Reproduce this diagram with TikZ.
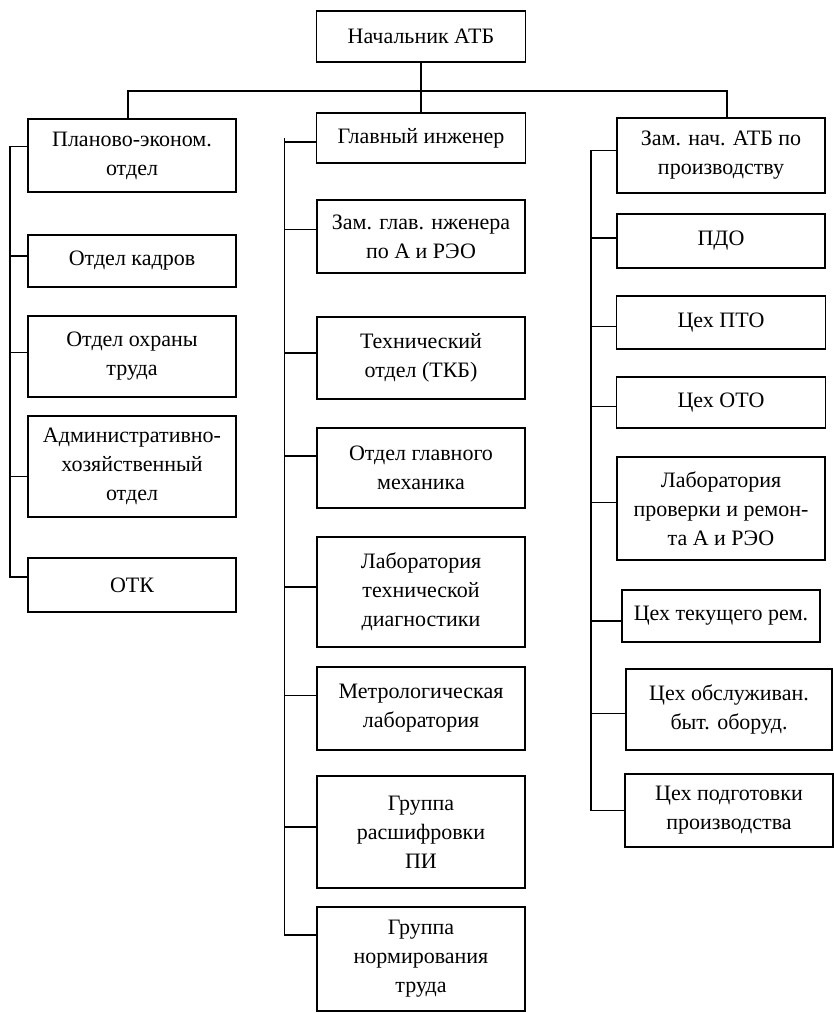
\documentclass[tikz,border=0pt]{standalone}
\usepackage{fontspec}
\setmainfont{Liberation Serif}
\usetikzlibrary{positioning}

\begin{document}
\begin{tikzpicture}[
    x=1pt, y=1pt,
    box/.style={rectangle, draw, line width=1.4pt, outer sep=0pt, minimum width=208pt, inner sep=2pt, align=center, font=\fontsize{22}{29}\selectfont},
    link/.style={line width=1.4pt},
]
\useasboundingbox (0,0) rectangle (834,-1013);

%% NODES
    % head
    \node[box, minimum width=209pt, minimum height=51pt] (head) at (421,-36.5) {Начальник АТБ};

    % left column
    \node[box, minimum height=73pt] (plan_otdel) at (132,-155.5) {Планово-эконом.\\отдел};
    \node[box, minimum height=52pt, below=43pt of plan_otdel] (kadry) {Отдел кадров};
    \node[box, minimum height=81pt, below=29pt of kadry] (ohrana) {Отдел охраны\\труда};
    \node[box, minimum height=101pt, below=19pt of ohrana] (adm_otdel) {Административно-\\хозяйственный\\отдел};
    \node[box, minimum height=54pt, below=41pt of adm_otdel] (otk) {ОТК};

    % middle column
    \node[box, minimum width=209pt, minimum height=50pt] (glav) at (421,-138) {Главный инженер};
    \node[box, minimum height=73pt, below=37pt of glav] (zam_glav) {Зам. глав. нженера\\по А и РЭО};
    \node[box, minimum height=82pt, below=44pt of zam_glav] (tech_otdel) {Технический\\отдел (ТКБ)};
    \node[box, minimum height=80pt, below=29pt of tech_otdel] (meh_otdel) {Отдел главного\\механика};
    \node[box, minimum height=110pt, below=29pt of meh_otdel] (lab_diag) {Лаборатория\\технической\\диагностики};
    \node[box, minimum height=83pt, below=20pt of lab_diag] (metr_lab) {Метрологическая\\лаборатория};
    \node[box, minimum height=112pt, below=26pt of metr_lab] (gr_rassh) {Группа\\расшифровки\\ПИ};
    \node[box, minimum height=104pt, below=19pt of gr_rassh] (gr_norm) {Группа\\нормирования\\труда};

    % right column
    \node[box, minimum height=75pt] (zam_nach) at (721,-155.5) {Зам. нач. АТБ по\\производству};
    \node[box, minimum height=54pt, below=21pt of zam_nach] (pdo) {ПДО};
    \node[box, minimum width=209pt, minimum height=53pt, below=28pt of pdo] (ceh_pto) {Цех ПТО};
    \node[box, minimum width=209pt, minimum height=51pt, below=28pt of ceh_pto] (ceh_oto) {Цех ОТО};
    \node[box, minimum height=103pt, below=29pt of ceh_oto] (lab_rem) {Лаборатория\\проверки и ремон-\\та А и РЭО};
    \node[box, minimum width=198pt, minimum height=52pt, below=30pt of lab_rem] (tek_rem) {Цех текущего рем.};
    \node[box, minimum width=206pt, minimum height=81pt, below=27pt of tek_rem, xshift=8pt] (obsl) {Цех обслуживан.\\быт. оборуд.};
    \node[box, minimum height=73pt, below=24pt of obsl] (podg) {Цех подготовки\\производства};

    % rails
    \coordinate[below=29pt of head.south] (bus);
    \coordinate[left=18pt of plan_otdel.west] (left_rail);
    \coordinate[left=32pt of glav.west] (mid_rail);
    \coordinate[left=26pt of zam_nach.west] (right_rail);

%% CONNECTIONS
    % head -> columns
    \draw[link] (head.south) -- (glav.north);
    \draw[link] ([xshift=-4pt]plan_otdel.north) |- (bus) -| ([xshift=6pt]zam_nach.north);

    % left column
    \draw[link] (left_rail) |- ([yshift=9pt]plan_otdel.west);
    \draw[link] (left_rail) |- ([yshift=5pt]kadry.west);
    \draw[link] (left_rail) |- ([yshift=4pt]ohrana.west);
    \draw[link] (left_rail) |- ([yshift=-10pt]adm_otdel.west);
    \draw[link] (left_rail) |- ([yshift=8pt]otk.west);

    % middle column
    \draw[link] (mid_rail) |- ([yshift=-4pt]glav.west);
    \draw[link] (mid_rail) |- ([yshift=7pt]zam_glav.west);
    \draw[link] (mid_rail) |- ([yshift=5pt]tech_otdel.west);
    \draw[link] (mid_rail) |- ([yshift=12pt]meh_otdel.west);
    \draw[link] (mid_rail) |- ([yshift=5pt]lab_diag.west);
    \draw[link] (mid_rail) |- ([yshift=13pt]metr_lab.west);
    \draw[link] (mid_rail) |- ([yshift=5pt]gr_rassh.west);
    \draw[link] (mid_rail) |- ([yshift=24pt]gr_norm.west);

    % right column
    \draw[link] (right_rail) |- ([yshift=5pt]zam_nach.west);
    \draw[link] (right_rail) |- ([yshift=3pt]pdo.west);
    \draw[link] (right_rail) |- ([yshift=-4pt]ceh_pto.west);
    \draw[link] (right_rail) |- ([yshift=-4pt]ceh_oto.west);
    \draw[link] (right_rail) |- ([yshift=6pt]lab_rem.west);
    \draw[link] (right_rail) |- ([yshift=-5pt]tek_rem.west);
    \draw[link] (right_rail) |- ([yshift=-4pt]obsl.west);
    \draw[link] (right_rail) |- ([yshift=0pt]podg.west);

\end{tikzpicture}
\end{document}
